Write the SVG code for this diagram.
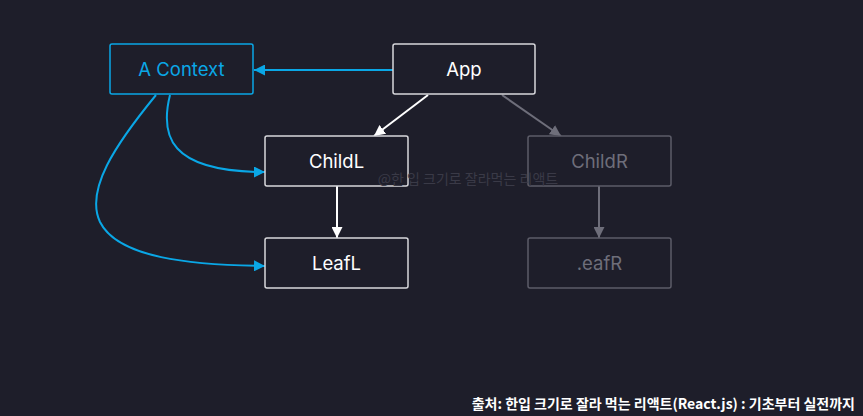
<svg xmlns="http://www.w3.org/2000/svg" width="863" height="416" viewBox="0 0 863 416">
<style>
.box{fill:#1e1e2a;stroke-width:1.5}
.lbl{font-family:Inter,"Noto Sans",sans-serif;font-size:18.5px;text-anchor:middle}
.on rect{stroke:#d8d8dc}
.on text{fill:#ffffff}
.off rect{stroke:#5c5c68}
.off text{fill:#6e6e7a}
.ctx rect{stroke:#0aa7e6}
.ctx text{fill:#0aa7e6}
.e{fill:none;stroke-width:2}
</style>
<defs>
<marker id="aw" viewBox="0 0 10 10" refX="10" refY="5" markerWidth="11" markerHeight="11" markerUnits="userSpaceOnUse" orient="auto"><path d="M0,0L10,5L0,10z" fill="#ffffff"/></marker>
<marker id="ag" viewBox="0 0 10 10" refX="10" refY="5" markerWidth="11" markerHeight="11" markerUnits="userSpaceOnUse" orient="auto"><path d="M0,0L10,5L0,10z" fill="#6e6e7a"/></marker>
<marker id="ab" viewBox="0 0 10 10" refX="10" refY="5" markerWidth="11" markerHeight="11" markerUnits="userSpaceOnUse" orient="auto"><path d="M0,0L10,5L0,10z" fill="#0aa7e6"/></marker>
</defs>
<rect width="863" height="416" fill="#1e1e2a"/>
<g id="connectors">
<path class="e" stroke="#0aa7e6" d="M393,70H254" marker-end="url(#ab)"/>
<path class="e" stroke="#ffffff" d="M428,95L374,136" marker-end="url(#aw)"/>
<path class="e" stroke="#6e6e7a" d="M502,95L561,136" marker-end="url(#ag)"/>
<path class="e" stroke="#ffffff" d="M337,186V238" marker-end="url(#aw)"/>
<path class="e" stroke="#6e6e7a" d="M599,186V238" marker-end="url(#ag)"/>
<path class="e" stroke="#0aa7e6" d="M170,95C160,135 168,172 265,172" marker-end="url(#ab)"/>
<path class="e" stroke="#0aa7e6" d="M156,95C115,145 85,190 100,222C118,258 190,265 265,266" marker-end="url(#ab)"/>
</g>
<g id="ctx" class="ctx"><rect class="box" x="110" y="44" width="143" height="50" rx="2"/><text class="lbl" x="181.5" y="76">A Context</text></g>
<g id="app" class="on"><rect class="box" x="393" y="44" width="142" height="50" rx="2"/><text class="lbl" x="464" y="76">App</text></g>
<g id="childL" class="on"><rect class="box" x="265" y="136" width="143" height="50" rx="2"/><text class="lbl" x="336.5" y="168">ChildL</text></g>
<g id="childR" class="off"><rect class="box" x="528" y="136" width="143" height="50" rx="2"/><text class="lbl" x="599.5" y="168">ChildR</text></g>
<g id="leafL" class="on"><rect class="box" x="265" y="238" width="143" height="50" rx="2"/><text class="lbl" x="336.5" y="270">LeafL</text></g>
<g id="leafR" class="off"><rect class="box" x="528" y="238" width="143" height="50" rx="2"/><text class="lbl" x="599.5" y="270">.eafR</text></g>
<text x="468" y="184" font-family="'Noto Sans CJK KR',sans-serif" font-size="14" fill="#3a3a47" text-anchor="middle">@한 입 크기로 잘라먹는 리액트</text>
<text x="855" y="409" font-family="'Noto Sans CJK KR',sans-serif" font-size="14" font-weight="bold" fill="#ffffff" text-anchor="end">출처: 한입 크기로 잘라 먹는 리액트(React.js) : 기초부터 실전까지</text>
</svg>
